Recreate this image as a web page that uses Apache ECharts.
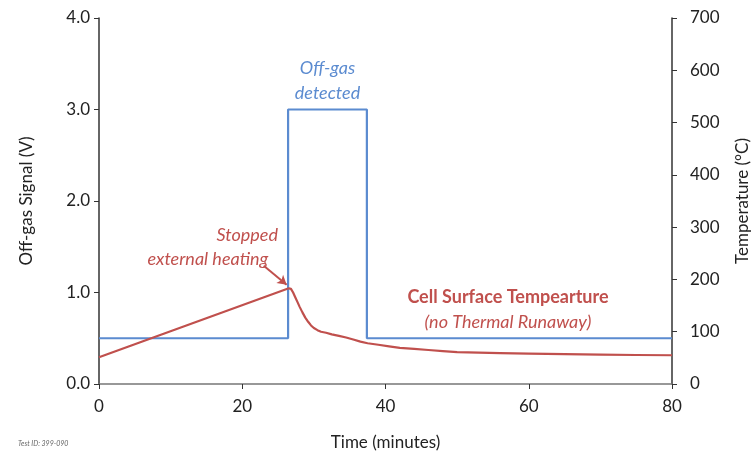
<!DOCTYPE html>
<html>
<head>
<meta charset="utf-8">
<script src="https://cdn.jsdelivr.net/npm/echarts@6/dist/echarts.min.js"></script>
<style>html,body{margin:0;padding:0;background:#fff}#c{width:755px;height:455px}</style>
</head>
<body>
<div id="c"></div>
<script>
// Off-gas signal (step)
const offgasTime   = [0, 26.4, 26.4, 37.4, 37.4, 80];
const offgasSignal = [0.5, 0.5, 3.0, 3.0, 0.5, 0.5];
// Cell surface temperature
const tempTime  = [0, 26.5, 26.8, 27.1, 27.4, 27.7, 28, 28.4, 28.8, 29.2, 29.6, 30, 30.5, 31, 31.7, 32.5, 33.5, 34.5, 35.5, 36.5, 37.5, 39, 40.5, 42, 44, 46, 48, 50, 53, 56, 60, 65, 70, 75, 80];
const tempValue = [51, 183, 182, 175, 166, 157, 148, 137, 127, 119, 112, 107, 103, 100, 98, 95, 92, 89, 85, 81, 78, 75, 72, 69, 67, 65, 63, 61, 60, 59, 58, 57, 56, 55.5, 55];
// Axis ticks
const xTicks = [0, 20, 40, 60, 80];
const leftTicks = [0, 1, 2, 3, 4];
const rightTicks = [0, 100, 200, 300, 400, 500, 600, 700];

const FONT = 'Lato';
const BLUE = '#5b8bd0';
const RED = '#c0504d';
const AXIS = '#333';

const chart = echarts.init(document.getElementById('c'), null, {renderer: 'canvas'});
const zip = (a, b) => a.map((v, i) => [v, b[i]]);

const option = {
  animation: false,
  textStyle: {fontFamily: FONT},
  grid: {left: 99, right: 83, top: 18, bottom: 71, containLabel: false, outerBoundsMode: 'none'},
  xAxis: {
    type: 'value', min: xTicks[0], max: xTicks[xTicks.length - 1], interval: 20,
    name: 'Time (minutes)', nameLocation: 'middle', nameGap: 50,
    nameTextStyle: {fontFamily: FONT, fontSize: 17, color: '#222'},
    axisLine: {lineStyle: {color: '#777', width: 1.5}},
    axisTick: {show: true, inside: false, length: 5, lineStyle: {color: AXIS}},
    axisLabel: {fontFamily: FONT, fontSize: 17, color: '#222', margin: 14},
    splitLine: {show: false}
  },
  yAxis: [{
    type: 'value', min: 0, max: 4, interval: 1, position: 'left',
    name: 'Off-gas Signal (V)', nameLocation: 'middle', nameGap: 64, nameRotate: 90,
    nameTextStyle: {fontFamily: FONT, fontSize: 17, color: '#222'},
    axisLine: {show: true, lineStyle: {color: AXIS, width: 1.5}},
    axisTick: {show: true, inside: false, length: 5, lineStyle: {color: AXIS}},
    axisLabel: {fontFamily: FONT, fontSize: 17, color: '#222', margin: 9,
      formatter: v => v.toFixed(1)},
    splitLine: {show: false}
  }, {
    type: 'value', min: 0, max: 700, interval: 100, position: 'right',
    name: 'Temperature (°C)', nameLocation: 'middle', nameGap: 62, nameRotate: 90,
    nameTextStyle: {fontFamily: FONT, fontSize: 17, color: '#222'},
    axisLine: {show: true, lineStyle: {color: AXIS, width: 1.5}},
    axisTick: {show: true, inside: false, length: 5, lineStyle: {color: AXIS}},
    axisLabel: {fontFamily: FONT, fontSize: 17, color: '#222', margin: 18},
    splitLine: {show: false}
  }],
  series: [{
    name: 'Off-gas', type: 'line', yAxisIndex: 0, showSymbol: false,
    data: zip(offgasTime, offgasSignal),
    lineStyle: {color: BLUE, width: 2.2}, itemStyle: {color: BLUE}, z: 3
  }, {
    name: 'Temperature', type: 'line', yAxisIndex: 1, showSymbol: false, smooth: false,
    data: zip(tempTime, tempValue),
    lineStyle: {color: RED, width: 2.2, join: 'round'}, itemStyle: {color: RED}, z: 4,
    markLine: {
      silent: true, symbol: ['none', 'arrow'], symbolSize: [8, 9],
      label: {show: false},
      lineStyle: {color: RED, width: 2, type: 'solid'},
      data: [[{coord: [23.0, 226]}, {coord: [26.2, 190]}]]
    }
  }]
};
chart.setOption(option);

function px(x, y, axis) {
  return chart.convertToPixel({xAxisIndex: 0, yAxisIndex: axis}, [x, y]);
}
const annots = [
  {t: 'Off-gas', x: 31.9, y: 3.45, ax: 0, color: BLUE, style: 'italic', weight: 'normal'},
  {t: 'detected', x: 31.9, y: 3.18, ax: 0, color: BLUE, style: 'italic', weight: 'normal'},
  {t: 'Stopped', x: 20.7, y: 284, ax: 1, color: RED, style: 'italic', weight: 'normal'},
  {t: 'external heating', x: 15.2, y: 238, ax: 1, color: RED, style: 'italic', weight: 'normal'},
  {t: 'Cell Surface Tempearture', x: 57.1, y: 166, ax: 1, color: RED, style: 'normal', weight: 'bold'},
  {t: '(no Thermal Runaway)', x: 57.1, y: 118, ax: 1, color: RED, style: 'italic', weight: 'normal'}
];
const graphics = annots.map(a => {
  const p = px(a.x, a.y, a.ax);
  return {type: 'text', x: p[0], y: p[1], z: 10,
    style: {text: a.t, fill: a.color, font: a.style + ' ' + a.weight + ' 18px ' + FONT,
      align: 'center', verticalAlign: 'middle'}};
});
graphics.push({type: 'text', x: 18, y: 444, z: 10,
  style: {text: 'Test ID: 399-090', fill: '#666', font: 'italic 7px ' + FONT,
    align: 'left', verticalAlign: 'middle'}});
chart.setOption({graphic: graphics});
</script>
</body>
</html>
